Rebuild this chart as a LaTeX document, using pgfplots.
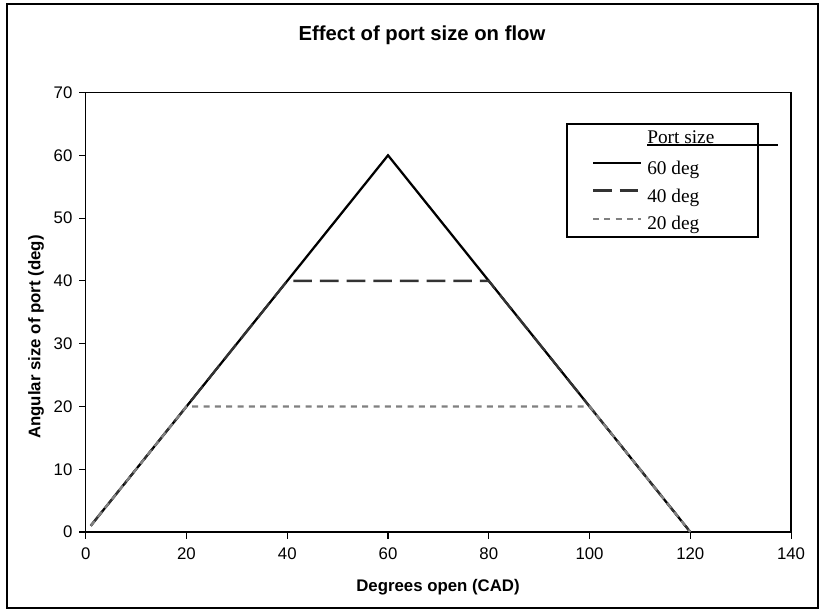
\documentclass[border=0pt]{standalone}
\usepackage{fontspec}
\setmainfont{Liberation Sans}
\newfontfamily\legfont{Liberation Serif}
\usepackage{pgfplots}
\pgfplotsset{compat=1.18}

\definecolor{dkgray}{HTML}{333333}
\definecolor{mdgray}{HTML}{808080}

\begin{document}
\begin{tikzpicture}
\begin{scope}[x=0.75pt,y=0.75pt]
\useasboundingbox (0,0) rectangle (825,615);
\draw[line width=1.1pt] (7,7) rectangle (818,611);
\end{scope}

\begin{axis}[
    at={(64.3pt,62.25pt)}, anchor=south west,
    scale only axis, width=529pt, height=329.6pt,
    xmin=0, xmax=140, ymin=0, ymax=70,
    xtick={0,20,...,140}, ytick={0,10,...,70},
    tick align=outside, major tick length=5pt,
    xtick pos=bottom, ytick pos=left,
    axis line style={line width=0.9pt},
    every tick/.style={black, line width=0.8pt},
    tick label style={font=\fontsize{12.6}{14}\selectfont},
    /pgf/number format/assume math mode=true,
    yticklabel style={xshift=-1.5pt},
    xticklabel style={yshift=-3pt},
    clip=false,
]
\addplot[black, line width=1.7pt] coordinates {(1,1) (60,60) (120,0)};
\addplot[dkgray, line width=1.7pt, dash pattern=on 14pt off 6pt] coordinates {(1,1) (40,40) (80,40) (120,0)};
\addplot[mdgray, line width=1.7pt, dash pattern=on 4.5pt off 4pt] coordinates {(1,1) (20,20) (100,20) (120,0)};
\end{axis}

\begin{scope}[x=0.75pt,y=0.75pt]
% titles
\node[font=\bfseries\fontsize{15.2}{18}\selectfont] at (422,580) {Effect of port size on flow};
\node[font=\bfseries\fontsize{12.6}{14}\selectfont] at (438,28) {Degrees open (CAD)};
\node[font=\bfseries\fontsize{12.6}{14}\selectfont, rotate=90] at (36,278) {Angular size of port (deg)};

% legend
\draw[line width=1.5pt, fill=white] (567,491) rectangle (758,378);
\node[font=\legfont\fontsize{14.5}{16}\selectfont, anchor=base west, inner sep=0] at (647,471.7) {Port size};
\draw[line width=0.8pt] (647,470) -- (778,470);
\draw[black, line width=1.8pt] (593,451.7) -- (641,451.7);
\draw[dkgray, line width=1.8pt, dash pattern=on 14pt off 6pt] (593,424.3) -- (641,424.3);
\draw[mdgray, line width=1.8pt, dash pattern=on 4.5pt off 4pt] (593,396) -- (641,396);
\node[font=\legfont\fontsize{14.5}{16}\selectfont, anchor=base west, inner sep=0] at (647,440.7) {60 deg};
\node[font=\legfont\fontsize{14.5}{16}\selectfont, anchor=base west, inner sep=0] at (647,412) {40 deg};
\node[font=\legfont\fontsize{14.5}{16}\selectfont, anchor=base west, inner sep=0] at (647,385) {20 deg};
\end{scope}
\end{tikzpicture}
\end{document}
